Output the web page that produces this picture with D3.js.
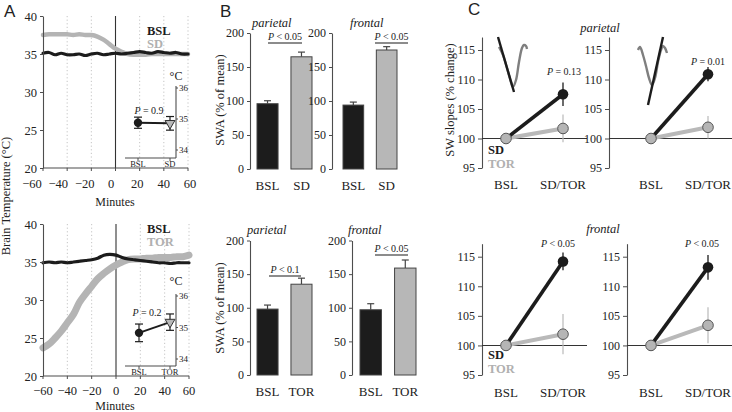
<!DOCTYPE html>
<html><head><meta charset="utf-8">
<script src="https://cdn.jsdelivr.net/npm/d3@7"></script>
<style>body{margin:0;background:#fff}svg{display:block}</style>
</head><body>
<svg id="c" width="732" height="412"></svg>
<script>
// ================= DATA =================
// Panel A: brain temperature time course (minutes relative to onset)
const minutes    = [-60,-55,-50,-45,-40,-35,-30,-25,-20,-15,-10,-5,0,5,10,15,20,25,30,35,40,45,50,55,60];
const tempBslSD  = [35.1,35.2,34.9,35.1,34.9,34.9,35.0,34.8,35.0,35.1,34.9,35.0,35.1,35.0,35.1,35.2,35.3,35.2,35.1,35.3,35.2,35.1,35.2,35.0,35.0];
const tempSD     = [37.5,37.6,37.6,37.6,37.6,37.5,37.6,37.5,37.5,37.3,36.9,36.3,35.7,35.3,35.0,34.9,34.9,34.9,35.0,35.0,35.0,35.0,35.0,35.0,35.0];
const tempBslTOR = [34.9,35.0,34.9,35.0,34.9,35.0,35.1,35.2,35.3,35.5,35.9,36.0,35.9,35.6,35.4,35.3,35.2,35.1,35.0,34.9,34.9,34.8,34.9,34.9,34.9];
const tempTOR    = [23.7,24.2,25.0,25.9,27.0,28.1,29.7,30.8,31.8,32.8,33.5,34.1,34.6,35.0,35.3,35.4,35.4,35.5,35.5,35.6,35.6,35.6,35.7,35.7,35.9];
const minuteTicks = [-60,-40,-20,0,20,40,60];
const tempTicks   = [20,25,30,35,40];
const gridMinutes = [-40,-20,20,40,60];
// Panel A insets: mean temperature (deg C) +- error
const insetCatsSD   = ["BSL","SD"];
const insetMeanSD   = [34.88, 34.86];
const insetErrSD    = [0.18, 0.22];
const insetCatsTOR  = ["BSL","TOR"];
const insetMeanTOR  = [34.83, 35.17];
const insetErrTOR   = [0.28, 0.26];
const insetTicks    = [34,35,36];
// Panel B: SWA (% of mean)
const swaCatsSD     = ["BSL","SD"];
const swaCatsTOR    = ["BSL","TOR"];
const swaParSD      = [96, 165];   const swaParSDErr  = [4.4, 6.9];
const swaFroSD      = [94, 175];   const swaFroSDErr  = [4.4, 4.9];
const swaParTOR     = [98, 135];   const swaParTORErr = [6, 9];
const swaFroTOR     = [97, 159];   const swaFroTORErr = [9, 12];
const swaTicks      = [0,50,100,150,200];
// Panel C: SW slopes (% change)
const slopeCats     = ["BSL","SD/TOR"];
const slopeTicks    = [95,100,105,110,115];
const parL_SD  = [100, 107.5]; const parL_SDErr  = [0, 2.0];
const parL_TOR = [100, 101.7]; const parL_TORErr = [0, 2.35];
const parR_SD  = [100, 110.9]; const parR_SDErr  = [0, 1.2];
const parR_TOR = [100, 101.9]; const parR_TORErr = [0, 1.9];
const froL_SD  = [100, 114.2]; const froL_SDErr  = [0, 1.5];
const froL_TOR = [100, 101.9]; const froL_TORErr = [0, 3.4];
const froR_SD  = [100, 113.2]; const froR_SDErr  = [0, 2.1];
const froR_TOR = [100, 103.4]; const froR_TORErr = [0, 3.05];
// Slow-wave illustration (time index, normalized amplitude)
const waveL_t   = [0,4,8,12,14,17,20,23,25,27,28];
const waveL_amp = [0.0,-0.2,-0.525,-0.875,-1.0,-0.825,-0.375,-0.025,0.05,0.025,-0.05];
const slopeL_t  = [-1,15];
const slopeL_amp= [0.25,-1.125];
const waveR_t   = [0,2,5,8,11,14,17,20,23,25,27,29];
const waveR_amp = [-0.075,0.0,-0.2,-0.475,-0.775,-0.95,-0.775,-0.375,-0.075,0.025,-0.025,-0.15];
const slopeR_t  = [10,25];
const slopeR_amp= [-1.45,0.25];

// ================= STYLE =================
const svg = d3.select("#c");
const SERIF = "'Liberation Serif','Times New Roman','DejaVu Serif',serif";
const SANS  = "'Liberation Sans',Arial,sans-serif";
const BLACK = "#1c1c1c", GRAY = "#b4b4b4", AXIS = "#4d4d4d", TXT = "#222";

function styleAxis(a, fs){
  a.select(".domain").attr("stroke", AXIS).attr("stroke-width", 1.1);
  a.selectAll(".tick line").attr("stroke", AXIS).attr("stroke-width", 1);
  a.selectAll(".tick text").attr("font-family", SERIF).attr("font-size", fs).attr("fill", TXT);
  a.attr("font-family", SERIF);
}
function txt(x, y, s, o={}){
  const t = svg.append("text").attr("x", x).attr("y", y)
    .attr("font-family", o.family || SERIF).attr("font-size", o.size || 12)
    .attr("fill", o.fill || TXT).attr("text-anchor", o.anchor || "start");
  if (o.weight) t.attr("font-weight", o.weight);
  if (o.style) t.attr("font-style", o.style);
  if (o.rotate) t.attr("transform", `rotate(${o.rotate},${x},${y})`);
  t.text(s);
  return t;
}
function pText(x, y, rest, size, anchor){
  const t = svg.append("text").attr("x", x).attr("y", y).attr("font-family", SERIF)
    .attr("font-size", size).attr("fill", TXT).attr("text-anchor", anchor || "middle");
  t.append("tspan").attr("font-style","italic").text("P");
  t.append("tspan").text(rest);
}

// ================= PANEL A =================
function tempPanel(cfg){
  const x = d3.scaleLinear().domain([-60,60]).range(cfg.xr);
  const xl = d3.scaleLinear().domain([-60,60]).range(cfg.xlab);
  const y = d3.scaleLinear().domain([20,40]).range(cfg.yr);
  const g = svg.append("g");
  g.selectAll("line.grid").data(gridMinutes).join("line")
    .attr("x1", d=>x(d)).attr("x2", d=>x(d)).attr("y1", y(40)).attr("y2", y(20))
    .attr("stroke", "#c4c4c4").attr("stroke-width", 1).attr("stroke-dasharray", "1.2,2.4");
  g.append("line").attr("x1", x(0)).attr("x2", x(0)).attr("y1", y(40)).attr("y2", y(20))
    .attr("stroke", "#333").attr("stroke-width", 1.1);
  const line = d3.line().x((d,i)=>x(minutes[i])).y(d=>y(d)).curve(d3.curveCatmullRom);
  g.append("path").attr("d", line(cfg.cond)).attr("fill","none").attr("stroke", GRAY)
    .attr("stroke-width", cfg.gw).attr("stroke-linecap","round");
  g.append("path").attr("d", line(cfg.bsl)).attr("fill","none").attr("stroke", BLACK)
    .attr("stroke-width", 3.2).attr("stroke-linecap","round");
  const ay = g.append("g").attr("transform", `translate(${cfg.xr[0]},0)`)
    .call(d3.axisLeft(y).tickValues(tempTicks).tickSize(3).tickSizeOuter(0).tickPadding(3));
  styleAxis(ay, 12.5);
  g.append("line").attr("x1", cfg.xr[0]).attr("x2", cfg.xr[1]).attr("y1", y(20)).attr("y2", y(20))
    .attr("stroke", AXIS).attr("stroke-width", 1.1);
  g.selectAll("line.xt").data(minuteTicks).join("line")
    .attr("x1", d=>x(d)).attr("x2", d=>x(d)).attr("y1", y(20)).attr("y2", y(20)+3).attr("stroke", AXIS);
  g.selectAll("text.xl").data(minuteTicks).join("text")
    .attr("x", d=>xl(d)).attr("y", cfg.tickY).attr("text-anchor","middle")
    .attr("font-family", SERIF).attr("font-size", 12.5).attr("fill", TXT)
    .text(d => d < 0 ? "\u2212" + Math.abs(d) : d);
  txt(115, cfg.minY, "Minutes", {anchor:"middle", size:12});
  txt(147, cfg.legY, "BSL", {weight:"bold", size:12.5, fill:BLACK});
  txt(147, cfg.legY+12.5, cfg.condName, {weight:"bold", size:12.5, fill:"#b0b0b0"});
  // inset
  const ic = cfg.inset;
  const xi = d3.scalePoint().domain(ic.cats).range(ic.xr);
  const yi = d3.scaleLinear().domain([34,36]).range(ic.yr);
  const ig = svg.append("g");
  ig.append("line").attr("x1", ic.axX).attr("x2", ic.axX).attr("y1", yi(36)-2).attr("y2", ic.baseY)
    .attr("stroke", AXIS).attr("stroke-width", 1.1);
  ig.append("line").attr("x1", ic.x0).attr("x2", ic.axX).attr("y1", ic.baseY).attr("y2", ic.baseY)
    .attr("stroke", AXIS).attr("stroke-width", 1.1);
  ig.selectAll("line.it").data(insetTicks).join("line")
    .attr("x1", ic.axX).attr("x2", ic.axX+2).attr("y1", d=>yi(d)).attr("y2", d=>yi(d)).attr("stroke", AXIS);
  ig.selectAll("text.it").data(insetTicks).join("text")
    .attr("x", ic.axX+3).attr("y", d=>yi(d)+3).attr("font-family", SERIF).attr("font-size", 9)
    .attr("fill", TXT).text(d=>d);
  ig.selectAll("line.ib").data(ic.cats).join("line")
    .attr("x1", d=>xi(d)).attr("x2", d=>xi(d)).attr("y1", ic.baseY).attr("y2", ic.baseY+3).attr("stroke", AXIS);
  ig.selectAll("text.ib").data(ic.cats).join("text")
    .attr("x", d=>xi(d)).attr("y", ic.baseY+9).attr("text-anchor","middle")
    .attr("font-family", SERIF).attr("font-size", 8.5).attr("fill", TXT).text(d=>d);
  txt(ic.axX, ic.degY, "\u00B0C", {anchor:"middle", size:12});
  ig.append("line").attr("x1", xi(ic.cats[0])).attr("x2", xi(ic.cats[1]))
    .attr("y1", yi(ic.mean[0])).attr("y2", yi(ic.mean[1])).attr("stroke", BLACK).attr("stroke-width", 2);
  ic.cats.forEach((c,i)=>{
    const cx = xi(c), m = ic.mean[i], e = ic.err[i];
    ig.append("line").attr("x1",cx).attr("x2",cx).attr("y1",yi(m-e)).attr("y2",yi(m+e)).attr("stroke",BLACK).attr("stroke-width",1.2);
    [m-e, m+e].forEach(v=> ig.append("line").attr("x1",cx-4).attr("x2",cx+4).attr("y1",yi(v)).attr("y2",yi(v)).attr("stroke",BLACK).attr("stroke-width",1.2));
  });
  ig.append("circle").attr("cx", xi(ic.cats[0])).attr("cy", yi(ic.mean[0])).attr("r", 4.2).attr("fill", BLACK);
  ig.append("path").attr("d", d3.symbol(d3.symbolTriangle, 42)())
    .attr("transform", `translate(${xi(ic.cats[1])},${yi(ic.mean[1])}) rotate(180)`)
    .attr("fill", "#b8b8b8").attr("stroke", "#333").attr("stroke-width", 1);
  pText(ic.pX, ic.pY, ic.pLabel, 10, "middle");
}

tempPanel({xr:[43,188], xlab:[32,190], yr:[168,16], bsl:tempBslSD, cond:tempSD, gw:4.5,
  tickY:188, minY:206, legY:35, condName:"SD",
  inset:{cats:insetCatsSD, mean:insetMeanSD, err:insetErrSD, xr:[138,170], yr:[150,88],
         axX:176, x0:125, baseY:158, degY:80, pX:149, pY:114, pLabel:" = 0.9"}});
tempPanel({xr:[43,189], xlab:[43,189], yr:[376,224], bsl:tempBslTOR, cond:tempTOR, gw:7,
  tickY:395, minY:410, legY:233, condName:"TOR",
  inset:{cats:insetCatsTOR, mean:insetMeanTOR, err:insetErrTOR, xr:[139,170], yr:[359,296],
         axX:176, x0:125, baseY:366, degY:285, pX:147, pY:316, pLabel:" = 0.2"}});
txt(10, 196, "Brain Temperature (\u00B0C)", {anchor:"middle", size:12.5, rotate:-90});

// ================= PANEL B =================
function barPanel(cfg){
  const y = d3.scaleLinear().domain([0,200]).range(cfg.yr);
  const x = d3.scaleBand().domain(cfg.cats).range(cfg.br).paddingInner(0.38).paddingOuter(0);
  const g = svg.append("g");
  const ay = g.append("g").attr("transform", `translate(${cfg.ax},0)`)
    .call(d3.axisLeft(y).tickValues(swaTicks).tickSize(3).tickSizeOuter(0).tickPadding(3));
  styleAxis(ay, 12);
  cfg.cats.forEach((c,i)=>{
    const v = cfg.vals[i], e = cfg.errs[i], cx = x(c) + x.bandwidth()/2;
    g.append("line").attr("x1",cx).attr("x2",cx).attr("y1",y(v)).attr("y2",y(v+e)).attr("stroke","#444").attr("stroke-width",1.2);
    g.append("line").attr("x1",cx-3.5).attr("x2",cx+3.5).attr("y1",y(v+e)).attr("y2",y(v+e)).attr("stroke","#444").attr("stroke-width",1.2);
  });
  g.selectAll("rect").data(cfg.cats).join("rect")
    .attr("x", d=>x(d)).attr("width", x.bandwidth())
    .attr("y", (d,i)=>y(cfg.vals[i])).attr("height", (d,i)=>y(0)-y(cfg.vals[i]))
    .attr("fill", (d,i)=> i===0 ? BLACK : "#b7b7b7").attr("stroke", "#444").attr("stroke-width", 1);
  g.selectAll("text.xl").data(cfg.cats).join("text")
    .attr("x", d=>x(d)+x.bandwidth()/2).attr("y", cfg.labY).attr("text-anchor","middle")
    .attr("font-family", SERIF).attr("font-size", 13).attr("fill", TXT).text(d=>d);
  g.append("line").attr("x1", cfg.pl[0]).attr("x2", cfg.pl[1]).attr("y1", cfg.pl[2]).attr("y2", cfg.pl[2])
    .attr("stroke", "#666").attr("stroke-width", 1.5);
  pText((cfg.pl[0]+cfg.pl[1])/2, cfg.pl[2]-3.5, cfg.pLabel, 10, "middle");
  txt(cfg.tx, cfg.ty, cfg.title, {style:"italic", size:12.5});
}
barPanel({cats:swaCatsSD, vals:swaParSD, errs:swaParSDErr, yr:[169,33], ax:250, br:[257,312],
  labY:190, pl:[268,302,43], pLabel:" < 0.05", title:"parietal", tx:252, ty:27});
barPanel({cats:swaCatsSD, vals:swaFroSD, errs:swaFroSDErr, yr:[169,33], ax:332, br:[343,397],
  labY:190, pl:[375,408,43], pLabel:" < 0.05", title:"frontal", tx:350, ty:27});
barPanel({cats:swaCatsTOR, vals:swaParTOR, errs:swaParTORErr, yr:[375,240.5], ax:250, br:[257,312],
  labY:396, pl:[269,301,276], pLabel:" < 0.1", title:"parietal", tx:247, ty:234});
barPanel({cats:swaCatsTOR, vals:swaFroTOR, errs:swaFroTORErr, yr:[375,240.5], ax:352, br:[360,416],
  labY:396, pl:[375,408,255], pLabel:" < 0.05", title:"frontal", tx:348, ty:234});
txt(224, 100, "SWA (% of mean)", {anchor:"middle", size:12.5, rotate:-90});
txt(224, 308, "SWA (% of mean)", {anchor:"middle", size:12.5, rotate:-90});

// ================= PANEL C =================
function slopePanel(cfg){
  const y = d3.scaleLinear().domain([95,117.2]).range([cfg.y95, cfg.y95 - 22.2*cfg.ppu]);
  const x = d3.scalePoint().domain(slopeCats).range(cfg.xr);
  const g = svg.append("g");
  const ay = g.append("g").attr("transform", `translate(${cfg.ax},0)`)
    .call(d3.axisLeft(y).tickValues(slopeTicks).tickSize(4).tickSizeOuter(0).tickPadding(3));
  styleAxis(ay, 12);
  g.append("line").attr("x1", cfg.ax).attr("x2", cfg.hEnd).attr("y1", y(100)).attr("y2", y(100))
    .attr("stroke", "#333").attr("stroke-width", 1.1);
  if (cfg.wave){
    const w = cfg.wave;
    const wx = d3.scaleLinear().domain([0,28]).range(w.xr);
    const wy = d3.scaleLinear().domain([-1,0.05]).range(w.yr);
    const wl = d3.line().x((d,i)=>wx(w.t[i])).y(d=>wy(d)).curve(d3.curveCatmullRom);
    g.append("path").attr("d", wl(w.amp)).attr("fill","none").attr("stroke","#7f7f7f").attr("stroke-width",2.4);
    const sl = d3.line().x((d,i)=>wx(w.st[i])).y(d=>wy(d));
    g.append("path").attr("d", sl(w.samp)).attr("fill","none").attr("stroke",BLACK).attr("stroke-width",2.4);
  }
  const line = d3.line().x((d,i)=>x(slopeCats[i])).y(d=>y(d));
  g.append("path").attr("d", line(cfg.tor)).attr("fill","none").attr("stroke", "#b9b9b9").attr("stroke-width", 4);
  g.append("path").attr("d", line(cfg.sd)).attr("fill","none").attr("stroke", BLACK).attr("stroke-width", 3.6);
  const c2 = x(slopeCats[1]);
  g.append("line").attr("x1",c2).attr("x2",c2).attr("y1",y(cfg.tor[1]-cfg.torE[1])).attr("y2",y(cfg.tor[1]+cfg.torE[1]))
    .attr("stroke","#b9b9b9").attr("stroke-width",1.2);
  g.append("line").attr("x1",c2).attr("x2",c2).attr("y1",y(cfg.sd[1]-cfg.sdE[1])).attr("y2",y(cfg.sd[1]+cfg.sdE[1]))
    .attr("stroke",BLACK).attr("stroke-width",1.3);
  g.append("circle").attr("cx", c2).attr("cy", y(cfg.sd[1])).attr("r", 5.3).attr("fill", BLACK);
  g.append("circle").attr("cx", c2).attr("cy", y(cfg.tor[1])).attr("r", 5.3).attr("fill", "#b5b5b5").attr("stroke","#555").attr("stroke-width",1);
  g.append("circle").attr("cx", x(slopeCats[0])).attr("cy", y(cfg.tor[0])).attr("r", 5.3).attr("fill", "#b5b5b5").attr("stroke","#555").attr("stroke-width",1);
  g.selectAll("text.xl").data(slopeCats).join("text")
    .attr("x", d=>x(d)).attr("y", cfg.labY).attr("text-anchor","middle")
    .attr("font-family", SERIF).attr("font-size", 13).attr("fill", TXT).text(d=>d);
  pText(cfg.pX, cfg.pY, cfg.pLabel, 10, "middle");
  if (cfg.legend){
    txt(cfg.ax+6, cfg.legend, "SD", {weight:"bold", size:12.5, fill:BLACK});
    txt(cfg.ax+6, cfg.legend+13.5, "TOR", {weight:"bold", size:12.5, fill:"#b0b0b0"});
  }
}
slopePanel({ax:482, xr:[506,563], y95:168, ppu:5.9, hEnd:587, sd:parL_SD, sdE:parL_SDErr, tor:parL_TOR, torE:parL_TORErr,
  labY:189, pX:564, pY:75, pLabel:" = 0.13", legend:154,
  wave:{xr:[499,527], yr:[87,45], t:waveL_t, amp:waveL_amp, st:slopeL_t, samp:slopeL_amp}});
slopePanel({ax:609, xr:[651,708], y95:168, ppu:5.9, hEnd:732, sd:parR_SD, sdE:parR_SDErr, tor:parR_TOR, torE:parR_TORErr,
  labY:189, pX:708, pY:65, pLabel:" = 0.01",
  wave:{xr:[638,666], yr:[87,45], t:waveR_t, amp:waveR_amp, st:slopeR_t, samp:slopeR_amp}});
slopePanel({ax:482, xr:[506,563], y95:375, ppu:5.915, hEnd:587, sd:froL_SD, sdE:froL_SDErr, tor:froL_TOR, torE:froL_TORErr,
  labY:397, pX:558, pY:247, pLabel:" < 0.05", legend:359});
slopePanel({ax:627, xr:[651,708], y95:375, ppu:5.915, hEnd:732, sd:froR_SD, sdE:froR_SDErr, tor:froR_TOR, torE:froR_TORErr,
  labY:397, pX:702, pY:247, pLabel:" < 0.05"});
txt(600, 32, "parietal", {anchor:"middle", style:"italic", size:12.5});
txt(603, 233, "frontal", {anchor:"middle", style:"italic", size:12.5});
txt(454, 100, "SW slopes (% change)", {anchor:"middle", size:12.5, rotate:-90});

// panel letters
txt(4, 17, "A", {family:SANS, size:17});
txt(220, 17, "B", {family:SANS, size:17});
txt(468, 15, "C", {family:SANS, size:17});
</script>
</body></html>
